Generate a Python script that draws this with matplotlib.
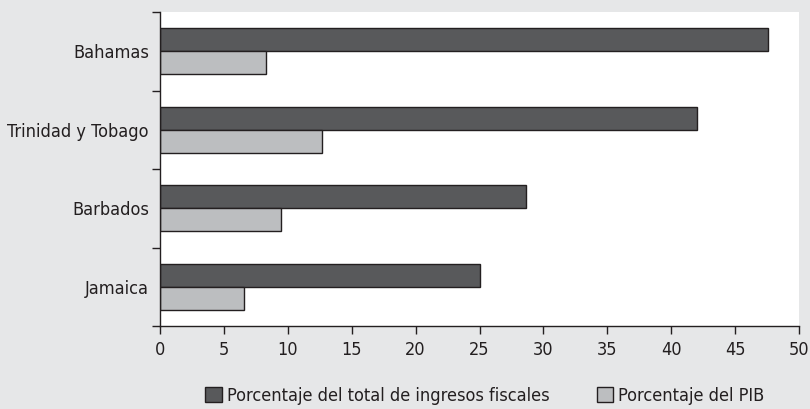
import numpy as np
import matplotlib.pyplot as plt
from matplotlib.ticker import FixedLocator, NullFormatter, FixedFormatter

plt.rcParams['font.family'] = ['DejaVu Sans']
plt.rcParams['font.stretch'] = 'condensed'

countries = ["Bahamas", "Trinidad y Tobago", "Barbados", "Jamaica"]
pct_ingresos = [47.6, 42.0, 28.6, 25.0]
pct_pib = [8.3, 12.7, 9.5, 6.6]
series_names = ["Porcentaje del total de ingresos fiscales", "Porcentaje del PIB"]

BG = "#e6e7e8"
DARK = "#58595b"
LIGHT = "#bcbec0"
EDGE = "#231f20"


def main():
    fig = plt.figure(figsize=(8.10, 4.09), dpi=100, facecolor=BG)
    ax = fig.add_axes([160 / 810, 1 - 326 / 409, 639 / 810, 314 / 409])
    ax.set_facecolor("white")

    n = len(countries)
    y = n - 1 - np.arange(n)  # top to bottom
    h = 0.29
    ax.barh(y + h / 2, pct_ingresos, height=h, color=DARK, edgecolor=EDGE,
            linewidth=1.0, label=series_names[0])
    ax.barh(y - h / 2, pct_pib, height=h, color=LIGHT, edgecolor=EDGE,
            linewidth=1.0, label=series_names[1])

    ax.set_xlim(0, 50)
    ax.set_ylim(-0.5, n - 0.5)
    ax.set_xticks(np.arange(0, 51, 5))
    ax.yaxis.set_major_locator(FixedLocator(np.arange(-0.5, n, 1.0)))
    ax.yaxis.set_major_formatter(NullFormatter())
    ax.yaxis.set_minor_locator(FixedLocator(y))
    ax.yaxis.set_minor_formatter(FixedFormatter(countries))
    ax.tick_params(axis="y", which="major", length=6, width=1, color=EDGE)
    ax.tick_params(axis="y", which="minor", length=0, pad=8, labelsize=13,
                   labelcolor=EDGE)
    ax.tick_params(axis="x", length=6, width=1, color=EDGE, pad=5,
                   labelsize=13, labelcolor=EDGE)

    for s in ["top", "right"]:
        ax.spines[s].set_visible(False)
    for s in ["left", "bottom"]:
        ax.spines[s].set_color(EDGE)
        ax.spines[s].set_linewidth(1.0)

    fig.legend(loc="center", bbox_to_anchor=(485 / 810, 1 - 396 / 409),
               ncol=2, frameon=False, fontsize=13, handlelength=0.9,
               handleheight=0.9, handletextpad=0.3, columnspacing=2.6,
               labelcolor=EDGE)

    fig.savefig("out.png", dpi=100, facecolor=BG)


if __name__ == "__main__":
    main()
